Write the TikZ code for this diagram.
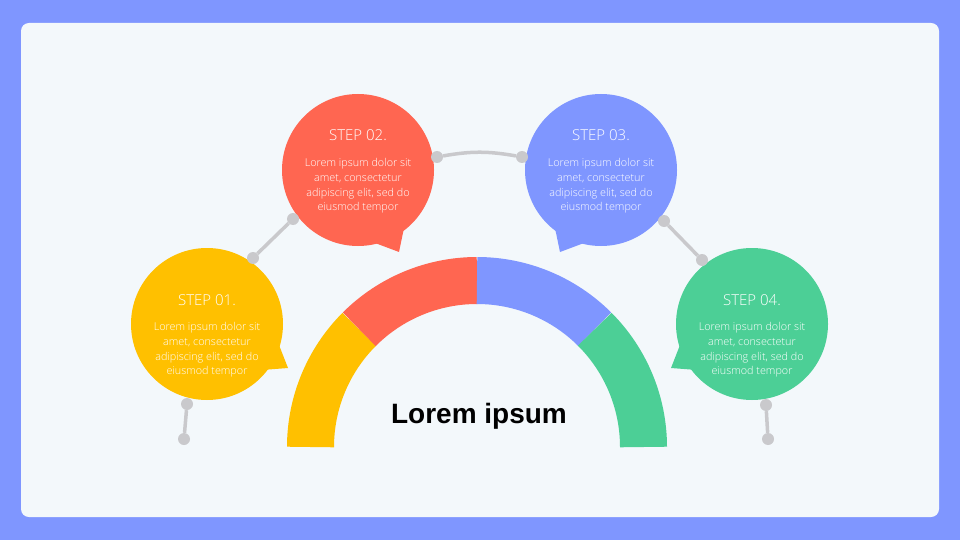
\documentclass[tikz,border=0pt]{standalone}
\usepackage{fontspec}
\setmainfont{Open Sans Light}
\newfontfamily\headfont{Liberation Sans}
\usetikzlibrary{positioning,calc}
\definecolor{FrameBlue}{RGB}{127,150,255}
\definecolor{PanelWhite}{RGB}{243,248,251}
\definecolor{StepYellow}{RGB}{255,192,0}
\definecolor{StepRed}{RGB}{255,102,81}
\definecolor{StepBlue}{RGB}{127,150,255}
\definecolor{StepGreen}{RGB}{76,207,150}
\definecolor{LinkGrey}{RGB}{201,201,204}

\begin{document}
\begin{tikzpicture}[x=1pt, y=1pt,
  bubble/.style={circle, minimum size=152pt, inner sep=0pt},
  knob/.style={circle, fill=LinkGrey, minimum size=12pt, inner sep=0pt},
  link/.style={LinkGrey, line width=3.5pt},
  title/.style={text=white, font=\fontsize{15}{18}\selectfont},
  body/.style={text=white, align=center, font=\fontsize{10.8}{14.6}\selectfont},
  ring/.style={line width=47pt}]
  \fill[FrameBlue] (0,0) rectangle (960,-540);
  \fill[PanelWhite, rounded corners=8pt] (21,-23) rectangle (939,-517);
  \useasboundingbox (0,0) rectangle (960,-540);

  % half ring
  \coordinate (hub) at (477,-447);
  \draw[ring, StepYellow] ($(hub)+(180:166.5)$) arc[start angle=180, end angle=135, radius=166.5];
  \draw[ring, StepRed] ($(hub)+(135:166.5)$) arc[start angle=135, end angle=90, radius=166.5];
  \draw[ring, StepBlue] ($(hub)+(90:166.5)$) arc[start angle=90, end angle=45, radius=166.5];
  \draw[ring, StepGreen] ($(hub)+(45:166.5)$) arc[start angle=45, end angle=0, radius=166.5];
  \node[font=\headfont\bfseries\fontsize{28}{30}\selectfont, anchor=base] (hubtext) at (479,-423) {Lorem ipsum};

  % bubbles with tails
  \node[bubble, fill=StepYellow] (s1) at (207,-324) {};
  \fill[StepYellow] (279,-345) -- (288,-368) -- (262,-370) -- cycle;
  \node[bubble, fill=StepRed] (s2) at (358,-170) {};
  \fill[StepRed] (404,-228) -- (399,-252) -- (375,-243) -- cycle;
  \node[bubble, fill=StepBlue] (s3) at (601,-170) {};
  \fill[StepBlue] (555,-228) -- (560,-252) -- (584,-243) -- cycle;
  \node[bubble, fill=StepGreen] (s4) at (752,-324) {};
  \fill[StepGreen] (680,-345) -- (671,-368) -- (697,-370) -- cycle;

  \node[title] (t1) at (207,-300) {STEP 01.};
  \node[body] (b1) at (207,-350) {Lorem ipsum dolor sit\\amet, consectetur\\adipiscing elit, sed do\\eiusmod tempor};
  \node[title] (t2) at (358,-135) {STEP 02.};
  \node[body] (b2) at (358,-186) {Lorem ipsum dolor sit\\amet, consectetur\\adipiscing elit, sed do\\eiusmod tempor};
  \node[title] (t3) at (601,-135) {STEP 03.};
  \node[body] (b3) at (601,-186) {Lorem ipsum dolor sit\\amet, consectetur\\adipiscing elit, sed do\\eiusmod tempor};
  \node[title] (t4) at (752,-300) {STEP 04.};
  \node[body] (b4) at (752,-350) {Lorem ipsum dolor sit\\amet, consectetur\\adipiscing elit, sed do\\eiusmod tempor};

  % grey links
  \node[knob] (k1a) at (253,-258) {};
  \node[knob] (k1b) at (293,-219) {};
  \node[knob] (k2a) at (437,-157) {};
  \node[knob] (k2b) at (522,-157) {};
  \node[knob] (k3a) at (664,-221) {};
  \node[knob] (k3b) at (702,-260) {};
  \node[knob] (k0a) at (187,-404) {};
  \node[knob] (k0b) at (184,-439) {};
  \node[knob] (k4a) at (766,-405) {};
  \node[knob] (k4b) at (768,-439) {};
  \draw[link] (k1a) -- (k1b);
  \draw[link] (k2a) to[bend left=10] (k2b);
  \draw[link] (k3a) -- (k3b);
  \draw[link] (k0a) -- (k0b);
  \draw[link] (k4a) -- (k4b);
\end{tikzpicture}
\end{document}
